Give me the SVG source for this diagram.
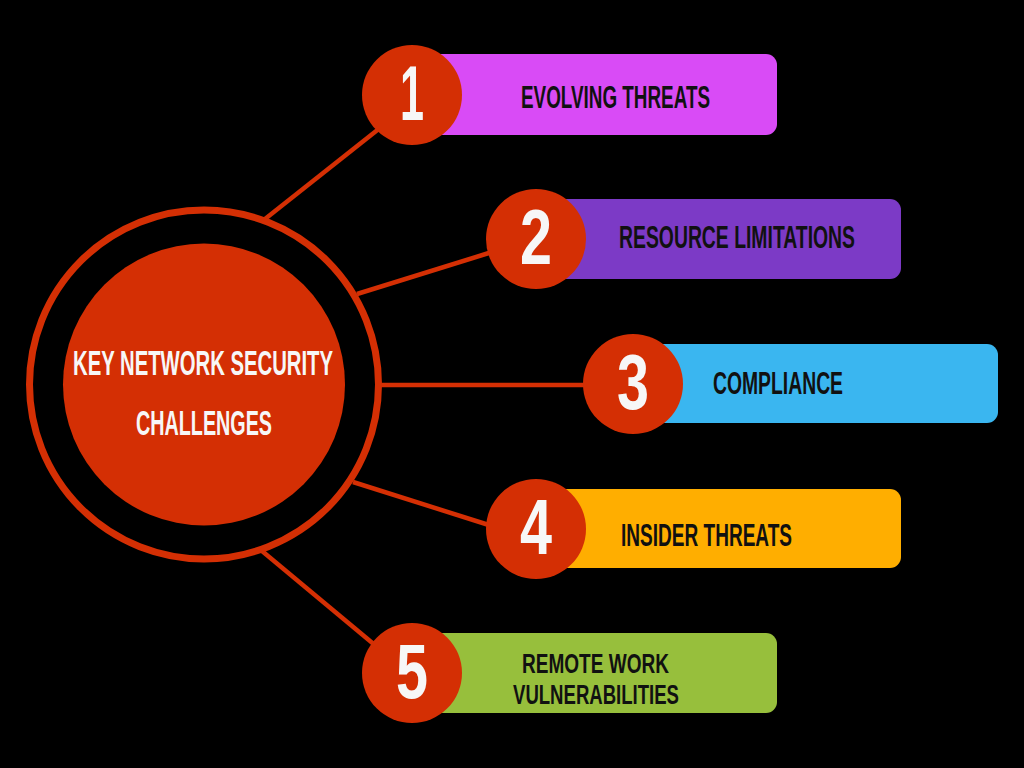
<svg xmlns="http://www.w3.org/2000/svg" width="1024" height="768" viewBox="0 0 1024 768">
<style>
.lbl{font-family:"Liberation Sans",Arial,sans-serif;font-weight:bold;font-size:32px;fill:#111}
.lbl2{font-family:"Liberation Sans",Arial,sans-serif;font-weight:bold;font-size:27px;fill:#111}
.num{font-family:"Liberation Sans",Arial,sans-serif;font-weight:bold;font-size:78px;fill:#f7f7f7}
.ctr{font-family:"Liberation Sans",Arial,sans-serif;font-weight:bold;font-size:35px;fill:#f7f7f7}
.badge{fill:#d42f04}
.conn line{stroke:#d42f04;stroke-width:4.5}
</style>
<rect width="1024" height="768" fill="#000"/>
<g class="conn" id="connectors">
<line x1="265" y1="219" x2="385" y2="124"/>
<line x1="357" y1="294" x2="492" y2="252"/>
<line x1="380" y1="385" x2="590" y2="385"/>
<line x1="353" y1="482" x2="492" y2="526"/>
<line x1="262" y1="551" x2="382" y2="651"/>
</g>
<g id="center">
<circle cx="204" cy="384.5" r="174.5" fill="none" stroke="#d42f04" stroke-width="7"/>
<circle cx="204" cy="384.5" r="141" fill="#d42f04"/>
<text class="ctr" x="73" y="375" textLength="260" lengthAdjust="spacingAndGlyphs">KEY NETWORK SECURITY</text>
<text class="ctr" x="136" y="435" textLength="136" lengthAdjust="spacingAndGlyphs">CHALLENGES</text>
</g>
<g id="item1">
<rect x="412" y="54" width="365" height="81" rx="11" fill="#d94bf6"/>
<circle class="badge" cx="412" cy="95" r="50"/>
<text class="num" x="400" y="120" textLength="24" lengthAdjust="spacingAndGlyphs">1</text>
<text class="lbl" x="521" y="108" textLength="189" lengthAdjust="spacingAndGlyphs">EVOLVING THREATS</text>
</g>
<g id="item2">
<rect x="536" y="199" width="365" height="80" rx="11" fill="#7c3ac6"/>
<circle class="badge" cx="536" cy="239" r="50"/>
<text class="num" x="520" y="264" textLength="32" lengthAdjust="spacingAndGlyphs">2</text>
<text class="lbl" x="619" y="248" textLength="236" lengthAdjust="spacingAndGlyphs">RESOURCE LIMITATIONS</text>
</g>
<g id="item3">
<rect x="633" y="344" width="365" height="79" rx="11" fill="#3ab6f0"/>
<circle class="badge" cx="633" cy="384" r="50"/>
<text class="num" x="617" y="409" textLength="32" lengthAdjust="spacingAndGlyphs">3</text>
<text class="lbl" x="713" y="394" textLength="130" lengthAdjust="spacingAndGlyphs">COMPLIANCE</text>
</g>
<g id="item4">
<rect x="536" y="489" width="365" height="79" rx="11" fill="#ffae00"/>
<circle class="badge" cx="536" cy="529" r="50"/>
<text class="num" x="520" y="554" textLength="32" lengthAdjust="spacingAndGlyphs">4</text>
<text class="lbl" x="621" y="546" textLength="171" lengthAdjust="spacingAndGlyphs">INSIDER THREATS</text>
</g>
<g id="item5">
<rect x="412" y="633" width="365" height="80" rx="11" fill="#97bf3c"/>
<circle class="badge" cx="412" cy="673" r="50"/>
<text class="num" x="396" y="698" textLength="32" lengthAdjust="spacingAndGlyphs">5</text>
<text class="lbl2" x="522" y="673" textLength="147" lengthAdjust="spacingAndGlyphs">REMOTE WORK</text>
<text class="lbl2" x="513" y="704" textLength="166" lengthAdjust="spacingAndGlyphs">VULNERABILITIES</text>
</g>
</svg>
